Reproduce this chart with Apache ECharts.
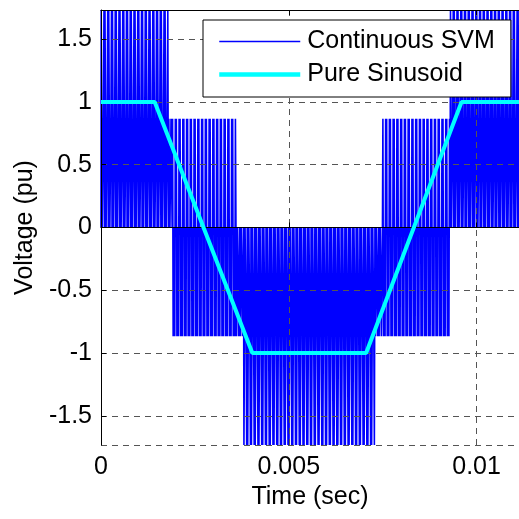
<!DOCTYPE html>
<html lang="en">
<head>
    <meta charset="utf-8">
    <script src="https://cdn.jsdelivr.net/npm/echarts@6/dist/echarts.min.js"></script>
    <style>
        html, body { margin: 0; padding: 0; background: #fff; }
        #chart { width: 519px; height: 519px; }
    </style>
</head>
<body>
<div id="chart"></div>

<script type="text/javascript">
    // x axis
    var xMax = 0.01113;
    var xTickStep = 0.005;
    var yLimit = 1.732;

    // pure sinusoid (flattened)
    var sineTime = [0, 0.00143, 0.00403, 0.00706, 0.0096, 0.01113];
    var sineVolt = [1, 1, -1, -1, 1, 1];

    // continuous SVM phase voltage: switching period and the level bands
    var swPeriod = 0.0001;
    var svmStart = [0, 0.00178, 0.00191, 0.00364, 0.00377, 0.00735, 0.00748, 0.00926, 0.00934];
    var svmOuter = [1.732, 0.866, 0.866, -0.866, -1.732, -0.866, 0.866, 0.866, 1.732];
    var svmInner = [0.866, 0.866, -0.866, -0.866, -0.866, -0.866, -0.866, 0.866, 0.866];
    // 0 -> outer -> inner -> 0 -> inner -> outer -> 0 within one period
    var swEdges = [0.06, 0.21, 0.36, 0.64, 0.79, 0.94];

    function segAt(t) {
        var k = 0;
        for (var i = 0; i < svmStart.length; i++) {
            if (t >= svmStart[i]) k = i;
        }
        return k;
    }

    var svmData = [];
    for (var p = 0; p * swPeriod < xMax; p++) {
        var t0 = p * swPeriod;
        var s = segAt(t0 + swPeriod / 2);
        var lv = [0, svmOuter[s], svmInner[s], 0, svmInner[s], svmOuter[s], 0];
        svmData.push([t0, 0]);
        for (var e = 0; e < swEdges.length; e++) {
            var te = t0 + swEdges[e] * swPeriod;
            svmData.push([te, lv[e]], [te, lv[e + 1]]);
        }
    }
    svmData.push([xMax, 0]);

    var sineData = sineTime.map(function (t, i) { return [t, sineVolt[i]]; });

    var font = 'Liberation Sans, Arial, sans-serif';
    var gridLine = { show: true, lineStyle: { color: '#555', type: [6, 5], width: 1 } };

    var chart = echarts.init(document.getElementById('chart'));
    var option = {
        animation: false,
        backgroundColor: '#fff',
        grid: { left: 101, right: -2, top: 10, bottom: 74 },
        legend: {
            orient: 'vertical',
            left: 203,
            top: 20,
            z: 10,
            padding: [9, 16, 10, 14],
            itemGap: 8,
            itemWidth: 81,
            itemHeight: 14,
            backgroundColor: '#fff',
            borderColor: '#000',
            borderWidth: 1,
            itemStyle: { opacity: 0, borderWidth: 0 },
            textStyle: { fontFamily: font, fontSize: 25, color: '#000', padding: [0, 0, 0, 2] },
            data: [
                { name: 'Continuous SVM', lineStyle: { color: '#0000ff', width: 1.5 } },
                { name: 'Pure Sinusoid', lineStyle: { color: '#00ffff', width: 4.5 } }
            ]
        },
        xAxis: [{
            type: 'value',
            min: 0,
            max: xMax,
            interval: xTickStep,
            z: 3,
            name: 'Time (sec)',
            nameLocation: 'middle',
            nameGap: 40,
            nameTextStyle: { fontFamily: font, fontSize: 25, color: '#000' },
            axisLine: { lineStyle: { color: '#000', width: 1 } },
            axisTick: { inside: true, length: 5, lineStyle: { color: '#000' } },
            axisLabel: { fontFamily: font, fontSize: 25, color: '#000', margin: 10, showMaxLabel: false },
            splitLine: gridLine
        }, {
            type: 'value',
            position: 'top',
            min: 0,
            max: xMax,
            interval: xTickStep,
            z: 3,
            axisLine: { lineStyle: { color: '#000', width: 1 } },
            axisTick: { inside: true, length: 5, lineStyle: { color: '#000' } },
            axisLabel: { show: false },
            splitLine: { show: false }
        }],
        yAxis: {
            type: 'value',
            min: -yLimit,
            max: yLimit,
            splitNumber: 7,
            z: 3,
            name: 'Voltage (pu)',
            nameLocation: 'middle',
            nameGap: 50,
            nameTextStyle: { fontFamily: font, fontSize: 25, color: '#000' },
            axisLine: { show: true, lineStyle: { color: '#000', width: 1 } },
            axisTick: { show: true, inside: true, length: 5, lineStyle: { color: '#000' } },
            axisLabel: { fontFamily: font, fontSize: 25, color: '#000', margin: 9,
                showMinLabel: false, showMaxLabel: false },
            splitLine: gridLine
        },
        series: [{
            name: 'Continuous SVM',
            type: 'line',
            data: svmData,
            showSymbol: false,
            symbol: 'none',
            z: 2,
            lineStyle: { color: '#0000ff', width: 1.6 },
            itemStyle: { color: '#0000ff' }
        }, {
            name: 'Pure Sinusoid',
            type: 'line',
            data: sineData,
            showSymbol: false,
            symbol: 'none',
            z: 4,
            lineStyle: { color: '#00ffff', width: 4 },
            itemStyle: { color: '#00ffff' }
        }]
    };
    chart.setOption(option);
</script>
</body>
</html>
